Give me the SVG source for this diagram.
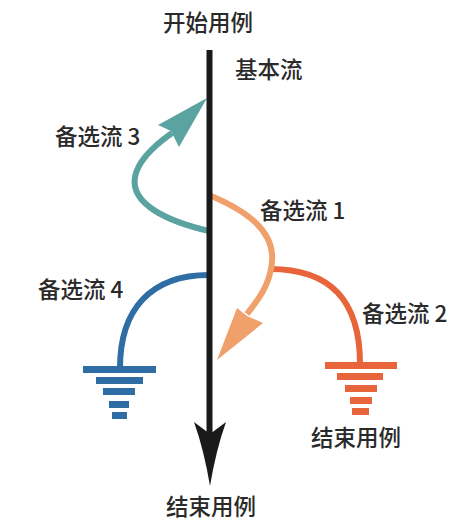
<svg xmlns="http://www.w3.org/2000/svg" width="463" height="527" viewBox="0 0 463 527">
<style>
text{font-family:"Noto Sans CJK SC","Noto Sans",sans-serif;font-size:22.5px;font-weight:500;fill:#2a2a2a}
.c{fill:none;stroke-width:6}
</style>
<rect width="463" height="527" fill="#fff"/>
<g id="connectors">
<path id="alt4" class="c" stroke="#2F6EA5" d="M209,275 C150,275 120,310 120,368"/>
<path id="alt2" class="c" stroke="#E8643A" d="M270,269 C330,269 360,300 360,364"/>
<path id="alt3" class="c" stroke="#5BA3A0" d="M209,231 C170,222 130,205 135,177 C138,160 155,145 172,133"/>
<polygon fill="#5BA3A0" points="207,98 158,125 171,131 179,147"/>
<path id="alt1" class="c" stroke="#F0A06A" d="M209,195 C245,210 275,230 272,262 C270,285 258,300 247,314"/>
<polygon fill="#F0A06A" points="217,360 237,308 247,316 263,323"/>
<line id="main" x1="209.5" y1="50" x2="209.5" y2="434" stroke="#1a1a1a" stroke-width="6"/>
<path fill="#1a1a1a" d="M210,486 Q216,450 226,422 L210,434 L194,422 Q204,450 210,486 Z"/>
</g>
<g id="ground4" fill="#2F6EA5">
<rect x="83" y="366" width="73" height="7"/>
<rect x="96" y="377" width="47" height="7"/>
<rect x="103" y="388" width="32" height="7"/>
<rect x="109" y="401" width="20" height="7"/>
<rect x="112" y="412" width="15" height="7"/>
</g>
<g id="ground2" fill="#E8643A">
<rect x="325" y="362" width="72" height="7"/>
<rect x="337" y="373" width="46" height="7"/>
<rect x="345" y="385" width="32" height="7"/>
<rect x="350" y="397" width="22" height="7"/>
<rect x="352" y="408" width="17" height="7"/>
</g>
<g id="labels">
<text x="208" y="31" text-anchor="middle">开始用例</text>
<text x="235" y="78">基本流</text>
<text x="55" y="145">备选流 3</text>
<text x="260" y="219">备选流 1</text>
<text x="362" y="322">备选流 2</text>
<text x="38" y="298">备选流 4</text>
<text x="356" y="446" text-anchor="middle">结束用例</text>
<text x="211" y="515" text-anchor="middle">结束用例</text>
</g>
</svg>
